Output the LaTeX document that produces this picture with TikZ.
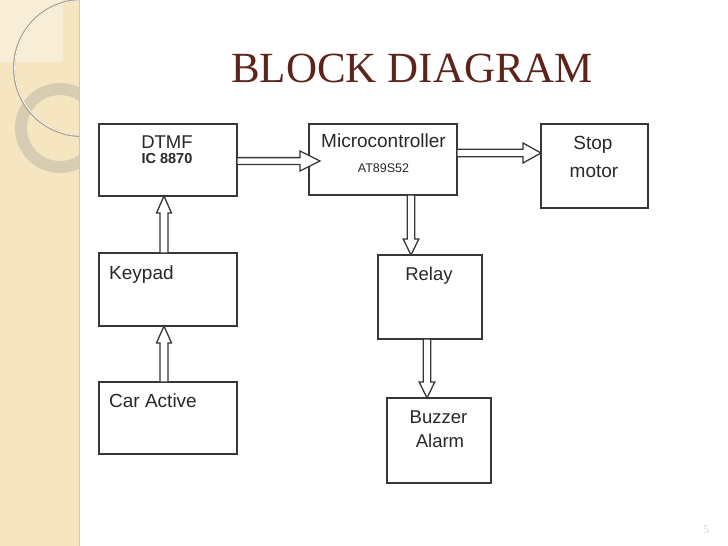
\documentclass[tikz,border=0pt]{standalone}
\usepackage{fontspec}
\setmainfont{Liberation Sans}
\newfontfamily\titlefont{Liberation Serif}
\usetikzlibrary{calc}
\definecolor{stripcol}{RGB}{245,229,192}
\definecolor{stripsq}{RGB}{248,238,216}
\definecolor{ringcol}{RGB}{216,205,178}
\definecolor{circcol}{RGB}{170,160,135}
\definecolor{titlecol}{RGB}{92,36,26}
\definecolor{boxline}{RGB}{55,55,55}
\definecolor{txtcol}{RGB}{40,40,40}
\newcommand\hollowarr[5]{% #1 start, #2 end, #3 shaft half width, #4 head half width, #5 head length
  \coordinate (hab) at ($(#2)!#5!(#1)$);
  \draw[arrowline] ($(#1)!#3!90:(#2)$) -- ($(hab)!#3!-90:(#1)$) -- ($(hab)!#4!-90:(#1)$) -- (#2)
    -- ($(hab)!#4!90:(#1)$) -- ($(hab)!#3!90:(#1)$) -- ($(#1)!#3!-90:(#2)$) -- cycle;
}
\begin{document}
\begin{tikzpicture}[x=1pt,y=-1pt,
  box/.style 2 args={draw=boxline, line width=1.7pt, minimum width=#1, minimum height=#2, inner sep=0pt, outer sep=0pt},
  arrowline/.style={draw=boxline, fill=white, line width=1.3pt, line join=miter},
  lbl/.style={text=txtcol, inner sep=0pt, anchor=base, font=\fontsize{18.5}{22}\selectfont},
  small/.style={text=txtcol, inner sep=0pt, anchor=base, font=\bfseries\fontsize{14.5}{17}\selectfont}]
\useasboundingbox (0,0) rectangle (728,546);
\fill[white] (0,0) rectangle (728,546);
% left decorative strip
\fill[stripcol] (0,0) rectangle (79,546);
\fill[stripsq] (0,0) rectangle (63,62);
\begin{scope}
  \clip (0,0) rectangle (79,546);
  \draw[ringcol, line width=12pt] (60,128) circle (39);
  \draw[circcol, line width=2pt] (82,68) circle (68);
  \draw[white, line width=0.8pt] (82,68) circle (67.4);
\end{scope}
\draw[color={rgb,255:red,215;green,200;blue,165}, line width=1pt] (79,0) -- (79,546);
% title
\node[anchor=base west, inner sep=0pt, text=titlecol, font=\titlefont\fontsize{43}{50}\selectfont] (title) at (231,82) {BLOCK DIAGRAM};
% boxes
\node[box={138pt}{72pt}] (dtmf) at (168,160) {};
\node[box={148pt}{71pt}] (micro) at (383,159.5) {};
\node[box={107pt}{84pt}] (stop) at (594.5,166) {};
\node[box={138pt}{73pt}] (keypad) at (168,289.5) {};
\node[box={138pt}{72pt}] (car) at (168,418) {};
\node[box={104pt}{84pt}] (relay) at (430,297) {};
\node[box={104pt}{85pt}] (buzzer) at (439,440.5) {};
% texts
\node[lbl] (t-dtmf) at (167,148) {DTMF};
\node[small] (t-ic) at (167,163.5) {IC 8870};
\node[lbl, font=\fontsize{19}{22}\selectfont] (t-micro) at (383.5,147) {Microcontroller};
\node[lbl, font=\fontsize{12.5}{15}\selectfont] (t-at) at (383.5,172) {AT89S52};
\node[lbl, font=\fontsize{19}{22}\selectfont] (t-stop) at (593,149) {Stop};
\node[lbl, font=\fontsize{19}{22}\selectfont] (t-motor) at (594,177) {motor};
\node[lbl, anchor=base west, font=\fontsize{19}{22}\selectfont] (t-keypad) at (109,279) {Keypad};
\node[lbl, anchor=base west, font=\fontsize{19}{22}\selectfont] (t-car) at (109,407) {Car Active};
\node[lbl] (t-relay) at (429,280) {Relay};
\node[lbl] (t-buzzer) at (438.5,423) {Buzzer};
\node[lbl] (t-alarm) at (440,447) {Alarm};
% arrow end points
\coordinate (a1s) at ([yshift=-1pt]dtmf.east);
\coordinate (a1e) at ([xshift=11pt,yshift=-1.5pt]micro.west);
\coordinate (a2s) at ([yshift=6.5pt]micro.east);
\coordinate (a2e) at ([yshift=13pt]stop.west);
\coordinate (a3s) at ([xshift=28pt]micro.south);
\coordinate (a3e) at ([xshift=-19pt]relay.north);
\coordinate (a4s) at ([xshift=-3pt]relay.south);
\coordinate (a4e) at ([xshift=-12pt]buzzer.north);
\coordinate (a5s) at ([xshift=-4pt]keypad.north);
\coordinate (a5e) at ([xshift=-4pt]dtmf.south);
\coordinate (a6s) at ([xshift=-4pt]car.north);
\coordinate (a6e) at ([xshift=-4pt]keypad.south);
% hollow arrows
\hollowarr{a1s}{a1e}{3.4pt}{10pt}{20pt}
\hollowarr{a2s}{a2e}{3.8pt}{10pt}{18pt}
\hollowarr{a3s}{a3e}{3.7pt}{7.8pt}{16pt}
\hollowarr{a4s}{a4e}{3.7pt}{7.8pt}{16pt}
\hollowarr{a5s}{a5e}{4pt}{7.5pt}{17pt}
\hollowarr{a6s}{a6e}{4pt}{7.5pt}{17pt}
% page number
\begin{scope}
  \clip (0,0) rectangle (728,546);
  \node[anchor=base west, inner sep=0pt, text=black!15, font=\titlefont\fontsize{12}{14}\selectfont] (pnum) at (703,533) {5};
\end{scope}
\end{tikzpicture}
\end{document}
